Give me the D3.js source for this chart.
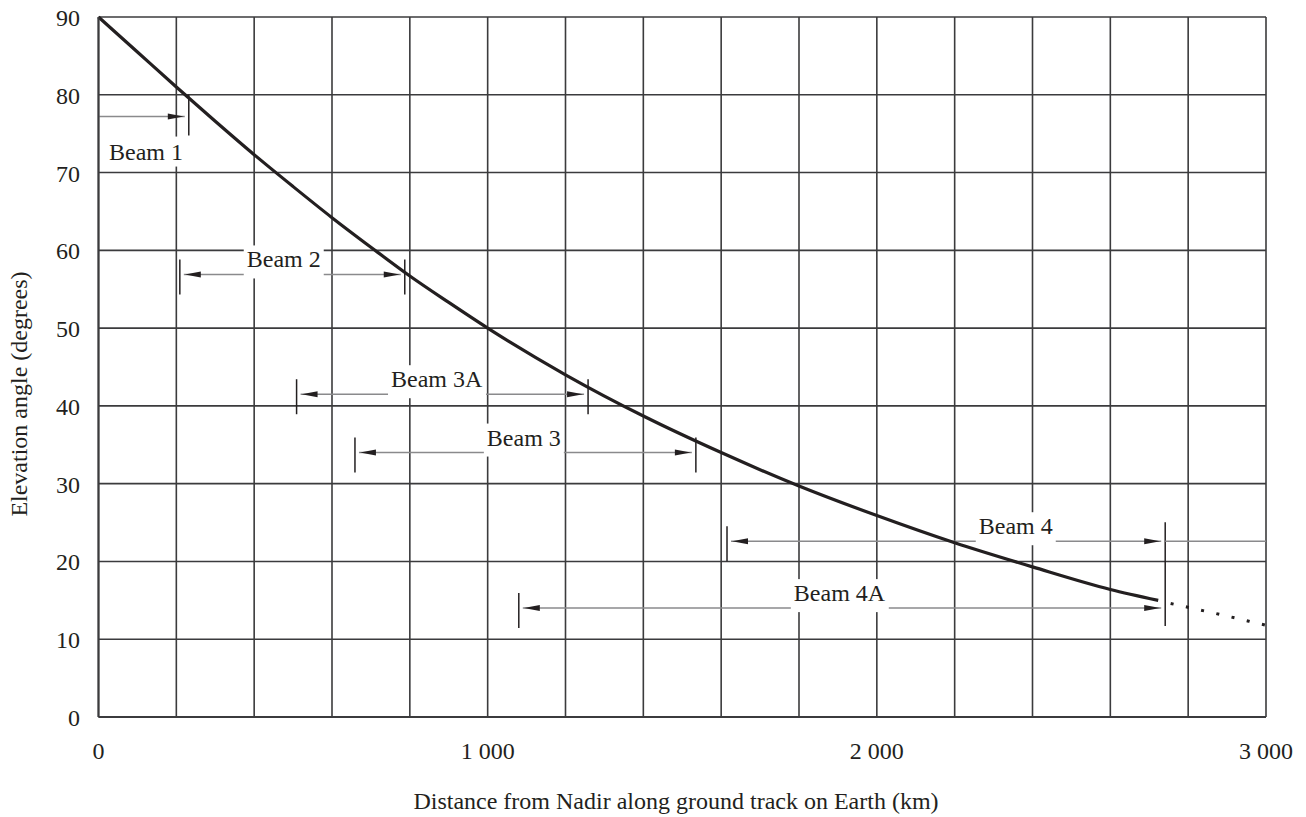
<!DOCTYPE html>
<html>
<head>
<meta charset="utf-8">
<script src="https://cdn.jsdelivr.net/npm/d3@7"></script>
<style>
  html, body { margin: 0; padding: 0; background: #ffffff; }
  svg { display: block; }
  text { font-family: "Liberation Serif", "Times New Roman", serif; fill: #231f20; }
</style>
</head>
<body>
<svg id="chart" width="1306" height="817"></svg>
<script>
// ---------- data ----------
const xGridValues = [0, 200, 400, 600, 800, 1000, 1200, 1400, 1600, 1800, 2000, 2200, 2400, 2600, 2800, 3000];
const xTickValues = [0, 1000, 2000, 3000];
const xTickLabels = ["0", "1 000", "2 000", "3 000"];
const yTickValues = [0, 10, 20, 30, 40, 50, 60, 70, 80, 90];
const yTickLabels = ["0", "10", "20", "30", "40", "50", "60", "70", "80", "90"];

// elevation curve (solid part)
const curveDistance = [0, 100, 200, 300, 400, 500, 600, 700, 800, 900, 1000, 1200, 1400, 1600, 1800, 2000, 2200, 2400, 2600, 2723];
const curveElevation = [90, 85.5, 81.0, 76.6, 72.3, 68.2, 64.2, 60.4, 56.7, 53.3, 50.0, 44.0, 38.7, 34.0, 29.7, 25.9, 22.4, 19.3, 16.4, 15.0];
// dotted continuation
const dotDistance = [2755, 2880, 3000];
const dotElevation = [14.6, 13.2, 11.8];

// beam coverage annotations
const beamNames = ["Beam 1", "Beam 2", "Beam 3A", "Beam 3", "Beam 4", "Beam 4A"];
const beamStart = [0, 209, 509, 659, 1615, 1080];
const beamEnd = [232, 787, 1258, 1535, 2741, 2741];
const beamLevel = [77.2, 56.9, 41.5, 34.0, 22.6, 14.0];
const beamLabelAt = [122, 476, 869, 1093, 2357, 1904];

const xTitle = "Distance from Nadir along ground track on Earth (km)";
const yTitle = "Elevation angle (degrees)";

// ---------- drawing ----------
const svg = d3.select("#chart");

const x = d3.scaleLinear().domain([0, 3000]).range([98.5, 1266]);
const y = d3.scaleLinear().domain([0, 90]).range([717, 17]);

const gridColor = "#3b3b3d";
const arrowColor = "#8a8a8c";
const darkColor = "#231f20";

// grid
const grid = svg.append("g");
grid.selectAll("line.vg").data(xGridValues).enter().append("line")
  .attr("x1", d => x(d)).attr("x2", d => x(d))
  .attr("y1", y(0)).attr("y2", y(90))
  .attr("stroke", gridColor).attr("stroke-width", 1.6);
grid.selectAll("line.hg").data(yTickValues).enter().append("line")
  .attr("x1", x(0)).attr("x2", x(3000))
  .attr("y1", d => y(d)).attr("y2", d => y(d))
  .attr("stroke", gridColor).attr("stroke-width", 1.6);

// beams
const beams = beamNames.map((name, i) => ({
  name, start: beamStart[i], end: beamEnd[i], level: beamLevel[i], label: beamLabelAt[i], i
}));

const bg = svg.append("g");
function arrowHead(g, tipX, yy, dir) {
  const len = 16, hw = 3;
  g.append("path")
    .attr("d", `M${tipX},${yy} L${tipX - dir * len},${yy - hw} L${tipX - dir * len},${yy + hw} Z`)
    .attr("fill", darkColor);
}

beams.forEach(b => {
  const yy = y(b.level);
  const hasLeft = b.start > 0;
  const xl = x(b.start), xr = x(b.end);
  const gap = 4;
  bg.append("line")
    .attr("x1", hasLeft ? xl + gap : xl).attr("x2", xr - gap)
    .attr("y1", yy).attr("y2", yy)
    .attr("stroke", arrowColor).attr("stroke-width", 1.5);
  if (hasLeft) arrowHead(bg, xl + gap + 1, yy, -1);
  arrowHead(bg, xr - gap - 1, yy, 1);
  if (hasLeft) {
    bg.append("line").attr("x1", xl).attr("x2", xl)
      .attr("y1", yy - 15).attr("y2", yy + 20)
      .attr("stroke", darkColor).attr("stroke-width", 1.5);
  }
});

// Beam 1 right tick
bg.append("line").attr("x1", x(beamEnd[0])).attr("x2", x(beamEnd[0]))
  .attr("y1", y(beamLevel[0]) - 22).attr("y2", y(beamLevel[0]) + 19)
  .attr("stroke", darkColor).attr("stroke-width", 1.5);
// Beam 2, 3A, 3 right ticks
[1, 2, 3].forEach(i => {
  bg.append("line").attr("x1", x(beamEnd[i])).attr("x2", x(beamEnd[i]))
    .attr("y1", y(beamLevel[i]) - 15).attr("y2", y(beamLevel[i]) + 20)
    .attr("stroke", darkColor).attr("stroke-width", 1.5);
});
// Beam 4 / 4A shared right tick
bg.append("line").attr("x1", x(beamEnd[4])).attr("x2", x(beamEnd[4]))
  .attr("y1", y(beamLevel[4]) - 19).attr("y2", y(beamLevel[5]) + 18)
  .attr("stroke", darkColor).attr("stroke-width", 1.5);
// Beam 4 continuation to the right edge
bg.append("line").attr("x1", x(beamEnd[4])).attr("x2", x(3000))
  .attr("y1", y(beamLevel[4])).attr("y2", y(beamLevel[4]))
  .attr("stroke", arrowColor).attr("stroke-width", 1.5);

// labels with white boxes
const lg = svg.append("g");
beams.forEach(b => {
  const yy = y(b.level);
  const cx = x(b.label);
  const below = b.start === 0;
  const baseline = below ? yy + 43 : yy - 7;
  const t = lg.append("text")
    .attr("x", cx).attr("y", baseline)
    .attr("text-anchor", "middle")
    .attr("font-size", 24)
    .text(b.name);
  const bb = t.node().getBBox();
  const top = below ? bb.y - 2 : yy - 29;
  const bottom = below ? bb.y + bb.height + 2 : yy + 4;
  lg.insert("rect", "text")
    .attr("x", bb.x - 3).attr("width", bb.width + 6)
    .attr("y", top).attr("height", bottom - top)
    .attr("fill", "#ffffff");
});

// curve
const solidData = curveDistance.map((d, i) => [d, curveElevation[i]]);
const dotData = dotDistance.map((d, i) => [d, dotElevation[i]]);
const line = d3.line().x(d => x(d[0])).y(d => y(d[1])).curve(d3.curveMonotoneX);
svg.append("path").datum(solidData)
  .attr("d", line)
  .attr("fill", "none").attr("stroke", darkColor).attr("stroke-width", 3.2);
svg.append("path").datum(dotData)
  .attr("d", line)
  .attr("fill", "none").attr("stroke", darkColor).attr("stroke-width", 3)
  .attr("stroke-dasharray", "3,12.6");

// axes frame
svg.append("line").attr("x1", x(0)).attr("x2", x(0)).attr("y1", y(0)).attr("y2", y(90))
  .attr("stroke", gridColor).attr("stroke-width", 2);
svg.append("line").attr("x1", x(0)).attr("x2", x(3000)).attr("y1", y(0)).attr("y2", y(0))
  .attr("stroke", gridColor).attr("stroke-width", 2);

// tick labels
svg.append("g").selectAll("text").data(xTickValues).enter().append("text")
  .attr("x", d => x(d)).attr("y", 759)
  .attr("text-anchor", "middle").attr("font-size", 24)
  .text((d, i) => xTickLabels[i]);
svg.append("g").selectAll("text").data(yTickValues).enter().append("text")
  .attr("x", 80).attr("y", d => y(d) + 9)
  .attr("text-anchor", "end").attr("font-size", 24)
  .text((d, i) => yTickLabels[i]);

// axis titles
svg.append("text")
  .attr("x", 676).attr("y", 809)
  .attr("text-anchor", "middle").attr("font-size", 24)
  .text(xTitle);
svg.append("text")
  .attr("transform", "translate(26.5, 394) rotate(-90)")
  .attr("text-anchor", "middle").attr("font-size", 24)
  .text(yTitle);
</script>
</body>
</html>
